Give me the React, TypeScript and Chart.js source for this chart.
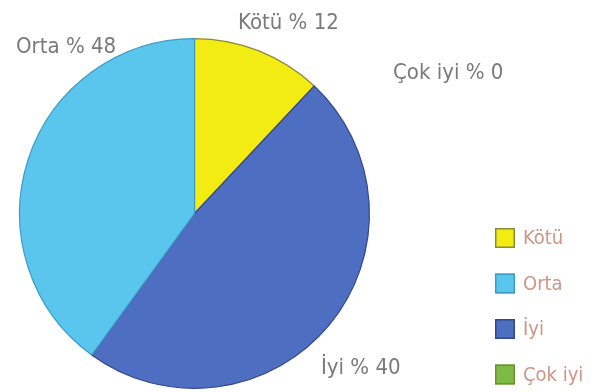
import React, { useEffect, useRef } from "react";
import { Chart, registerables } from "chart.js";

Chart.register(...registerables);

// Categories in the drawing order of the slices (clockwise from 12 o'clock)
const categories = ["Kötü", "İyi", "Orta", "Çok iyi"];
// Slice sizes as drawn in the picture (percent)
const sliceValues = [12, 48, 40, 0];
// Percentages as printed next to the pie
const printedPercents = [12, 40, 48, 0];
// Legend order as shown at the bottom right
const legendOrder = ["Kötü", "Orta", "İyi", "Çok iyi"];

const sliceColors = ["#f3ec12", "#4e6ec2", "#5ac6ee", "#7dbb45"];
const sliceBorders = ["#8a8a3a", "#33488a", "#3a9cc4", "#6f8f30"];

// Where each printed label sits (left x, middle y), same order as categories
const labelAnchors = [
  { x: 238, y: 23 },
  { x: 321, y: 368 },
  { x: 16, y: 47 },
  { x: 393, y: 73 },
];

const FONT = "'Liberation Sans Narrow', 'DejaVu Sans Condensed', 'Roboto', sans-serif";

const overlayPlugin = {
  id: "overlay",
  afterDraw(chart: any) {
    const ctx = chart.ctx as CanvasRenderingContext2D;
    ctx.save();
    // printed labels
    ctx.font = `22px ${FONT}`;
    ctx.fillStyle = "#7a7a7a";
    ctx.textAlign = "left";
    ctx.textBaseline = "middle";
    categories.forEach((c, i) => {
      const a = labelAnchors[i];
      ctx.fillText(`${c} % ${printedPercents[i]}`, a.x, a.y);
    });
    // legend
    const boxX = 495;
    const box = 20;
    const firstY = 238;
    const step = 45.5;
    ctx.font = `20px ${FONT}`;
    legendOrder.forEach((name, k) => {
      const i = categories.indexOf(name);
      const cy = firstY + k * step;
      ctx.fillStyle = sliceColors[i];
      ctx.fillRect(boxX, cy - box / 2, box, box);
      ctx.strokeStyle = sliceBorders[i];
      ctx.lineWidth = 1.5;
      ctx.strokeRect(boxX + 0.75, cy - box / 2 + 0.75, box - 1.5, box - 1.5);
      ctx.fillStyle = "#cf9584";
      ctx.fillText(name, 523, cy + 1);
    });
    ctx.restore();
  },
};

export default function App() {
  const ref = useRef<HTMLCanvasElement | null>(null);

  useEffect(() => {
    document.body.style.margin = "0";
    const canvas = ref.current;
    if (!canvas) return;
    const chart = new Chart(canvas, {
      type: "pie",
      data: {
        labels: categories,
        datasets: [
          {
            data: sliceValues,
            backgroundColor: sliceColors,
            borderColor: sliceBorders,
            borderWidth: 1.2,
          },
        ],
      },
      options: {
        responsive: false,
        animation: false,
        layout: { padding: { left: 19, right: 225, top: 38, bottom: 3 } },
        plugins: {
          legend: { display: false },
          tooltip: { enabled: false },
          title: { display: false },
        },
      },
      plugins: [overlayPlugin],
    });
    return () => chart.destroy();
  }, []);

  return (
    <div style={{ position: "fixed", left: 0, top: 0, width: 595, height: 392, background: "#ffffff" }}>
      <canvas ref={ref} width={595} height={392} style={{ display: "block", width: 595, height: 392 }} />
    </div>
  );
}
